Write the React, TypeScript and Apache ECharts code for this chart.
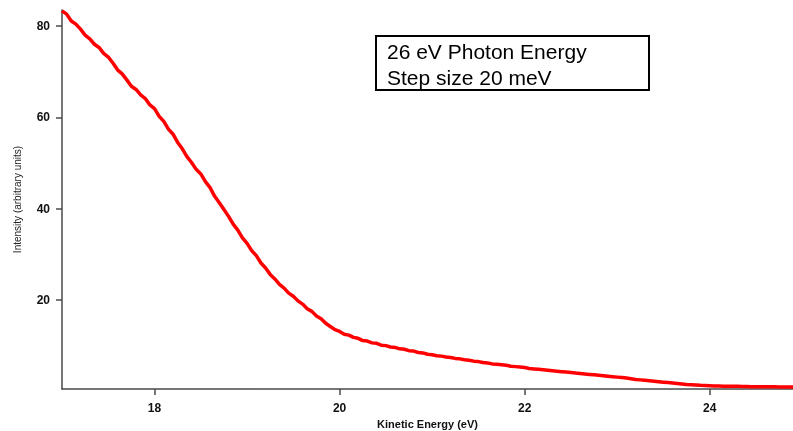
import React, { useEffect, useRef } from "react";
import * as echarts from "echarts";

const xStart = 17.0;
const xStep = 0.05;
const intensity: number[] = [
  83.3, 82.6, 81.1, 80.4, 79.3, 78.0, 77.2, 76.0, 75.3, 74.0,
  73.2, 71.9, 70.4, 69.5, 68.2, 66.8, 66.1, 64.9, 64.1, 62.7,
  61.9, 60.2, 59.1, 57.4, 56.3, 54.5, 53.1, 51.4, 50.1, 48.6,
  47.6, 45.9, 44.6, 42.7, 41.3, 39.8, 38.3, 36.6, 35.3, 33.6,
  32.4, 30.8, 29.7, 28.1, 27.0, 25.6, 24.6, 23.4, 22.6, 21.5,
  20.8, 19.8, 19.1, 18.1, 17.5, 16.5, 15.9, 14.9, 14.2, 13.5,
  13.1, 12.5, 12.3, 11.8, 11.6, 11.1, 11.0, 10.6, 10.5, 10.1,
  10.0, 9.7, 9.6, 9.3, 9.2, 8.9, 8.8, 8.5, 8.4, 8.1,
  8.0, 7.8, 7.7, 7.5, 7.4, 7.2, 7.1, 6.9, 6.8, 6.6,
  6.5, 6.3, 6.2, 6.0, 5.9, 5.8, 5.7, 5.5, 5.4, 5.3,
  5.2, 5.0, 4.9, 4.8, 4.7, 4.6, 4.5, 4.4, 4.3, 4.2,
  4.1, 4.0, 3.9, 3.8, 3.7, 3.6, 3.5, 3.4, 3.3, 3.2,
  3.1, 3.0, 2.9, 2.75, 2.6, 2.5, 2.4, 2.3, 2.2, 2.1,
  2.0, 1.9, 1.8, 1.7, 1.6, 1.5, 1.45, 1.4, 1.3, 1.25,
  1.2, 1.15, 1.15, 1.1, 1.1, 1.1, 1.1, 1.05, 1.05, 1.0,
  1.0, 1.0, 1.0, 1.0, 1.0, 0.95, 0.95, 0.95, 0.95,
];
const xTicks = [18, 20, 22, 24];
const yTicks = [20, 40, 60, 80];
const annotation = ["26 eV Photon Energy", "Step size 20 meV"];

export default function App() {
  const ref = useRef<HTMLDivElement>(null);
  useEffect(() => {
    if (!ref.current) return;
    const chart = echarts.init(ref.current, undefined, { renderer: "svg" });
    const data = intensity.map((v, i) => [+(xStart + i * xStep).toFixed(2), v]);
    const axisColor = "#4a4a4a";
    chart.setOption({
      animation: false,
      grid: { left: 62, right: 0, top: 10, bottom: 42, containLabel: false, outerBoundsMode: "none" },
      xAxis: {
        type: "value",
        min: 17,
        max: 24.9,
        name: "Kinetic Energy (eV)",
        nameLocation: "middle",
        nameGap: 28,
        nameTextStyle: { fontFamily: "Liberation Sans", fontWeight: "bold", fontSize: 11, color: "#111" },
        axisLine: { show: true, lineStyle: { color: axisColor, width: 1.5 } },
        axisTick: { show: true, customValues: xTicks, length: 6, lineStyle: { color: axisColor, width: 1.5 } },
        axisLabel: { customValues: xTicks, fontFamily: "Liberation Sans", fontWeight: "bold", fontSize: 12, color: "#111", margin: 13 },
        splitLine: { show: false },
      },
      yAxis: {
        type: "value",
        min: 0.5,
        max: 83.5,
        name: "Intensity (arbitrary units)",
        nameLocation: "middle",
        nameGap: 40,
        nameTextStyle: { fontFamily: "Liberation Sans", fontSize: 10, color: "#222" },
        axisLine: { show: true, lineStyle: { color: axisColor, width: 1.5 } },
        axisTick: { show: true, customValues: yTicks, length: 6, lineStyle: { color: axisColor, width: 1.5 } },
        axisLabel: { customValues: yTicks, fontFamily: "Liberation Sans", fontWeight: "bold", fontSize: 12, color: "#111", margin: 12 },
        splitLine: { show: false },
      },
      series: [
        {
          type: "line",
          data,
          showSymbol: false,
          lineStyle: { color: "#ff0000", width: 3.5 },
          clip: true,
        },
      ],
      graphic: [
        {
          type: "rect",
          shape: { x: 376, y: 36, width: 273, height: 54 },
          style: { fill: "#fff", stroke: "#000", lineWidth: 2 },
        },
        {
          type: "text",
          x: 387,
          y: 51.5,
          style: { text: annotation[0], fontFamily: "Liberation Sans", fontSize: 21, fill: "#000", verticalAlign: "middle" },
        },
        {
          type: "text",
          x: 387,
          y: 77.5,
          style: { text: annotation[1], fontFamily: "Liberation Sans", fontSize: 21, fill: "#000", verticalAlign: "middle" },
        },
      ],
    });
    return () => chart.dispose();
  }, []);
  return <div ref={ref} style={{ position: "fixed", left: 0, top: 0, width: 793, height: 431 }} />;
}
